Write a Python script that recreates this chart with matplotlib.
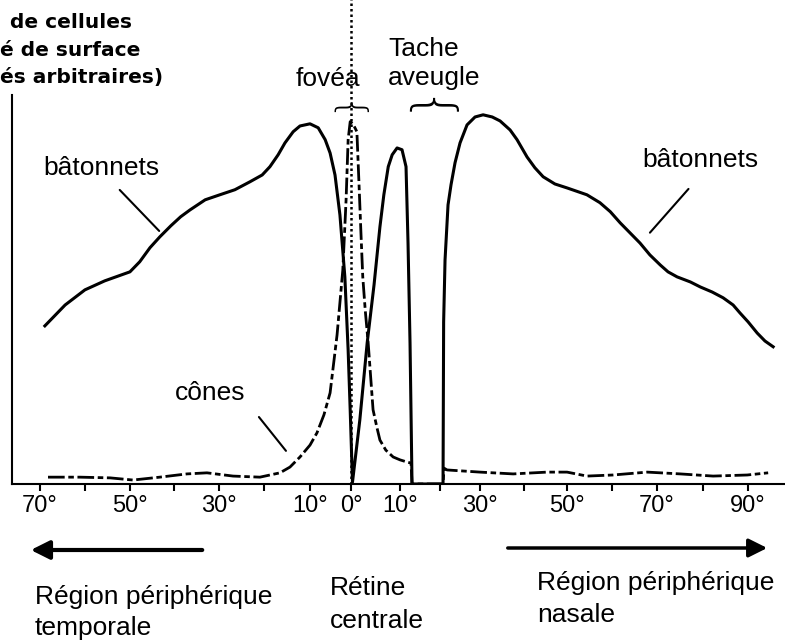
import numpy as np
import matplotlib
matplotlib.use("Agg")
import matplotlib.pyplot as plt
from matplotlib.patches import FancyArrowPatch

plt.rcParams['font.family'] = ['Liberation Sans', 'DejaVu Sans']

# Eccentricity in degrees (temporal < 0 < nasal) and density (arbitrary units)
rods_deg = [-68.9, -64.4, -60.0, -55.6, -50.0, -47.8, -45.5, -43.3, -40.8, -38.6,
            -36.5, -33.1, -29.8, -26.5, -23.2, -20.5, -18.8, -17.0, -15.5, -13.7,
            -12.2, -10.0, -8.0, -6.3, -5.1, -3.9, -2.7, -1.5, -0.7, -0.2, 0.3,
            1.8, 3.3, 4.7, 5.9, 6.7, 7.6, 8.4, 9.4, 10.5, 11.5, 12.0, 12.5, 13.0,
            20.75, 20.9, 21.25, 22.0, 22.75, 23.75, 25.0, 26.75, 28.75, 30.7,
            32.8, 34.6, 36.9, 38.5, 40.8, 42.6, 44.5, 47.2, 50.0, 54.4,
            57.3, 59.6, 61.8, 64.0, 66.2, 68.4, 70.7, 72.4, 74.4, 77.3,
            79.5, 82.1, 84.5, 86.7, 88.2, 90.0, 92.0, 93.7, 95.5]
rods_val = [43.9, 49.7, 53.9, 56.4, 58.9, 61.7, 65.6, 68.6, 71.7, 74.2,
            76.1, 78.9, 80.3, 81.7, 83.9, 85.8, 88.1, 91.4, 94.7, 97.8,
            99.4, 100.0, 98.9, 95.6, 91.9, 85.8, 74.7, 57.5, 37.2, 20.6, 0.5,
            17.8, 39.2, 55.3, 71.4, 80.3, 88.1, 91.4, 93.3, 92.8, 88.1, 66.9, 39.2, 0.0,
            0.0, 45.0, 62.2, 77.5, 83.1, 89.2, 94.7, 99.7, 101.9, 102.5,
            101.9, 100.8, 98.3, 95.6, 90.8, 87.8, 85.3, 83.3, 82.2, 80.3,
            78.1, 75.6, 72.5, 69.7, 66.9, 63.6, 60.8, 58.9, 57.5, 56.1,
            54.7, 53.3, 51.7, 49.7, 47.5, 45.0, 41.9, 39.7, 38.1]

cones_deg = [-68.2, -61.1, -54.4, -49.3, -43.3, -37.2, -32.7, -26.9, -21.0, -16.6,
             -14.4, -12.2, -10.0, -8.3, -6.6, -5.1, -3.4, -2.0, -1.2, -0.7,
             -0.2, 0.4, 1.2, 1.6, 2.0, 2.4, 2.9, 3.5, 4.5, 5.3,
             5.9, 7.1, 8.6, 10.0, 11.75, 12.75, 13.0, 20.75, 21.0, 21.75,
             30.0, 37.6, 45.4, 50.0, 54.4, 60.2, 67.8, 75.1, 82.3, 89.8, 94.4]
cones_val = [1.9, 1.9, 1.7, 1.1, 1.9, 2.8, 3.1, 2.2, 1.9, 3.1,
             4.7, 7.5, 10.8, 14.2, 19.2, 25.3, 41.4, 59.4, 78.9, 95.6,
             100.6, 100.0, 97.8, 84.4, 70.6, 57.5, 48.3, 39.2, 20.6, 15.6,
             12.2, 9.4, 7.5, 6.7, 6.1, 5.8, 0.0, 0.0, 4.4, 3.9,
             3.3, 2.8, 3.3, 3.3, 2.2, 2.5, 3.3, 2.8, 2.2, 2.5, 3.1]

tick_deg = list(range(-70, 100, 10))
tick_lab = ['70°', '', '50°', '', '30°', '', '10°', '0°', '10°', '',
            '30°', '', '50°', '', '70°', '', '90°']

# the hand-drawn axis is not evenly spaced: piecewise-linear scale
scale_deg = [-80, -70, -50, -30, -10, 0, 10, 30, 50, 70, 90, 100]
scale_pos = [-5, 40, 130, 219, 310, 351, 400, 480, 567, 657, 748, 793.5]


def fwd(x):
    return np.interp(x, scale_deg, scale_pos)


def inv(p):
    return np.interp(p, scale_pos, scale_deg)


W, H = 785, 642
fig = plt.figure(figsize=(W / 100, H / 100), dpi=100)
ax = fig.add_axes([12 / W, (H - 484) / H, (W - 12) / W, 389 / H])
ax.set_xscale('function', functions=(fwd, inv))
ax.set_xlim(-76.2, 98.1)
ax.set_ylim(0, 108)

ax.plot(rods_deg, rods_val, color='black', lw=2.2, solid_joinstyle='round')
ax.plot(cones_deg, cones_val, color='black', lw=2.0, dashes=(6, 1.3, 2, 1.3))
ax.axvline(0, ymin=0, ymax=1.25, color='black', lw=1.8,
           linestyle=(0, (1, 1.2)), clip_on=False)

for s in ['top', 'right']:
    ax.spines[s].set_visible(False)
ax.spines['left'].set_linewidth(1.5)
ax.spines['bottom'].set_linewidth(1.5)
ax.set_yticks([])
ax.set_xticks(tick_deg, tick_lab)
ax.tick_params(axis='x', direction='out', length=5, width=1.5, pad=3, labelsize=17)

# curve labels with pointer lines
ax.text(-69.3, 87.8, 'bâtonnets', fontsize=19, va='center')
ax.annotate('', xy=(-43.0, 69.7), xytext=(-52.7, 82.2),
            arrowprops=dict(arrowstyle='-', lw=1.5, color='black'))
ax.text(66.7, 90.0, 'bâtonnets', fontsize=19, va='center')
ax.annotate('', xy=(68.0, 69.2), xytext=(77.3, 82.5),
            arrowprops=dict(arrowstyle='-', lw=1.5, color='black'))
ax.text(-39.9, 25.3, 'cônes', fontsize=19, va='center')
ax.annotate('', xy=(-14.9, 8.6), xytext=(-21.6, 19.2),
            arrowprops=dict(arrowstyle='-', lw=1.5, color='black'))

# fovea and blind spot
ax.text(-13.1, 110.6, 'fovéa', fontsize=19, va='baseline')
ax.text(7.55, 118.9, 'Tache', fontsize=19, va='baseline')
ax.text(7.55, 110.8, 'aveugle', fontsize=19, va='baseline')
ax.text(-1.5, 103, '{', fontsize=27, rotation=-90, ha='center', va='center',
        family='DejaVu Sans', fontweight='light')
ax.text(15.75, 103, '{', fontsize=38, rotation=-90, ha='center', va='center',
        family='DejaVu Sans', fontweight='light')

# y-axis title (cropped in the source)
fig.text(10 / W, 1 - 22 / H, 'de cellules', fontsize=14.5, fontweight='bold',
         family='DejaVu Sans', va='center')
fig.text(0, 1 - 50 / H, 'é de surface', fontsize=14.5, fontweight='bold',
         family='DejaVu Sans', va='center')
fig.text(0, 1 - 78 / H, 'és arbitraires)', fontsize=14.5, fontweight='bold',
         family='DejaVu Sans', va='center')

# regions below the axis
fig.patches.append(FancyArrowPatch(
    (205 / W, 1 - 550 / H), (28 / W, 1 - 550 / H), transform=fig.transFigure,
    arrowstyle='-|>', mutation_scale=28, lw=3, color='black'))
fig.patches.append(FancyArrowPatch(
    (505 / W, 1 - 548 / H), (770 / W, 1 - 548 / H), transform=fig.transFigure,
    arrowstyle='-|>', mutation_scale=28, lw=2.5, color='black'))

fig.text(35 / W, 1 - 597 / H, 'Région périphérique', fontsize=19, va='center')
fig.text(35 / W, 1 - 628 / H, 'temporale', fontsize=19, va='center')
fig.text(330 / W, 1 - 588 / H, 'Rétine', fontsize=19, va='center')
fig.text(330 / W, 1 - 621 / H, 'centrale', fontsize=19, va='center')
fig.text(537 / W, 1 - 583 / H, 'Région périphérique', fontsize=19, va='center')
fig.text(537 / W, 1 - 615 / H, 'nasale', fontsize=19, va='center')

fig.savefig('out.png', dpi=100)
